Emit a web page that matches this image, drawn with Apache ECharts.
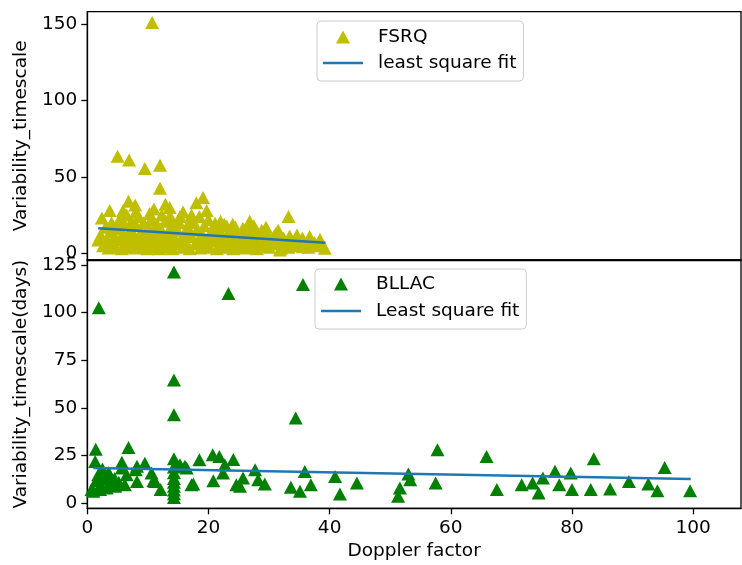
<!DOCTYPE html>
<html>
<head>
<meta charset="utf-8">
<title>Variability timescale vs Doppler factor</title>
<script src="https://cdn.jsdelivr.net/npm/echarts@6/dist/echarts.min.js"></script>
<style>
  html, body { margin: 0; padding: 0; background: #fff; }
  #chart { width: 742px; height: 565px; }
</style>
</head>
<body>
<div id="chart"></div>
<script>
// FSRQ sample: Doppler factor and variability timescale
const fsrqDoppler = [
  1.8, 2.2, 2.4, 2.6, 3.0, 3.2, 3.5, 3.7, 3.8, 4.0, 4.2, 4.5, 4.8, 5.0, 5.0, 5.3, 5.5, 5.7, 5.9, 5.9,
  6.1, 6.3, 6.5, 6.7, 6.8, 6.9, 6.9, 7.1, 7.3, 7.5, 7.7, 7.9, 7.9, 8.1, 8.3, 8.5, 8.7, 8.9, 9.1, 9.3,
  9.5, 9.5, 9.7, 9.9, 10.1, 10.3, 10.3, 10.5, 10.7, 10.7, 10.9, 11.1, 11.3, 11.5, 11.7, 11.9, 12.0, 12.0, 12.1, 12.3,
  12.3, 12.6, 12.9, 12.9, 13.1, 13.3, 13.6, 13.6, 13.6, 13.9, 14.1, 14.3, 14.6, 14.9, 15.2, 15.3, 15.5, 15.8, 16.0, 16.3,
  16.6, 16.9, 17.2, 17.2, 17.5, 17.8, 18.0, 18.1, 18.4, 18.7, 19.0, 19.1, 19.3, 19.6, 19.7, 19.9, 20.2, 20.5, 20.8, 21.1,
  21.1, 21.4, 21.7, 22.0, 22.3, 22.6, 22.9, 23.0, 23.2, 23.5, 23.8, 24.1, 24.4, 24.4, 24.7, 25.0, 25.3, 25.7, 25.6, 25.9,
  26.2, 26.5, 26.8, 26.8, 27.1, 27.4, 27.7, 28.0, 28.0, 28.3, 28.6, 28.8, 29.0, 29.3, 29.6, 29.9, 30.0, 30.4, 30.8, 31.1,
  31.2, 31.6, 31.8, 32.0, 32.4, 32.8, 33.2, 33.2, 33.4, 33.6, 34.0, 34.5, 34.6, 35.0, 35.5, 35.6, 36.0, 36.5, 36.7, 37.0,
  37.5, 38.0, 38.4, 38.6, 39.2, 8.0, 11.0, 14.0, 15.8, 16.8, 18.5, 20.0, 22.0, 24.0, 27.5, 29.5, 31.5
];
const fsrqTimescale = [
  8.7, 12, 23, 5, 17, 9, 3.5, 28, 14, 20, 7, 11, 4, 63.5, 16, 22, 9, 3, 28, 13,
  19, 6, 25, 10, 34, 61, 4, 15, 21, 8, 12, 31.5, 3.5, 18, 6, 24, 10, 14, 4, 20,
  55.5, 8, 12, 3, 17, 26, 6, 22, 151, 10, 14, 4.5, 8, 19, 12, 3, 57.5, 42.5, 16, 25,
  6, 10, 32, 21, 4, 13, 24, 30, 8, 18, 3, 11, 6, 15, 20, 24, 9, 4, 13, 7,
  17, 3, 25, 11, 21, 6, 33, 15, 9, 3.5, 12, 36.5, 18, 6, 28, 10, 4, 14, 8, 19.6,
  12, 3, 16, 6, 10, 19, 4, 17.8, 13, 8, 11, 3, 17.4, 7, 14, 5, 10, 16.3, 12, 3.5,
  8, 15, 21, 6, 11, 4, 9, 14, 3, 12, 7, 15, 10, 5, 13, 8.7, 4, 9, 11, 13,
  6, 8, 2.2, 3.5, 10, 6, 24, 4, 11.3, 8, 5, 9, 12, 7, 10, 4.3, 6, 4, 10.9, 8,
  7, 5, 9.2, 6, 3.3, 27, 29, 22, 27, 20, 24, 22, 21, 19, 18, 17, 15
];

// BL Lac sample
const bllacDoppler = [
  0.7, 1.0, 1.3, 1.4, 1.5, 1.8, 1.9, 2.1, 2.2, 2.5, 2.8, 2.9, 3.2, 3.5, 3.7, 4.0, 4.5, 4.6, 5.2, 5.7,
  5.7, 6.2, 6.5, 6.8, 8.0, 8.2, 8.2, 9.5, 10.6, 10.9, 11.2, 12.1, 14.3, 14.3, 14.3, 14.3, 14.3, 14.3, 14.3, 14.3,
  14.3, 14.3, 14.3, 14.3, 15.3, 16.1, 16.4, 17.2, 17.5, 18.5, 20.7, 20.8, 21.8, 22.4, 22.7, 23.3, 24.1, 24.6, 25.2, 25.7,
  27.7, 28.2, 29.3, 33.6, 34.4, 35.1, 35.6, 35.9, 36.9, 40.9, 41.7, 44.5, 51.3, 51.6, 53.0, 53.3, 57.5, 57.8, 65.9, 67.6,
  71.7, 73.5, 74.5, 75.2, 77.2, 77.9, 79.8, 80.0, 83.1, 83.6, 86.3, 89.4, 92.6, 94.1, 95.3, 99.5
];
const bllacTimescale = [
  7.2, 6.3, 22, 28.4, 12, 15, 102.5, 7.2, 10, 18, 13, 13.3, 8, 16, 15, 9.8, 13, 8.9, 11, 21.6,
  18.5, 9.8, 15, 29.3, 17.6, 11.5, 19.4, 21, 15.9, 11.9, 11.5, 7.2, 121.3, 64.7, 46.4, 23.4, 19, 16, 13, 11,
  9, 7, 5, 3, 20.2, 19.4, 18.5, 9.8, 10.1, 22.9, 25.5, 11.9, 24.6, 15.9, 20.2, 110, 23, 9.8, 8.9, 13.3,
  17.6, 12.4, 10.1, 8.4, 44.7, 6.3, 114.7, 16.7, 9.8, 14.1, 4.9, 10.7, 3.7, 8, 15.4, 12.4, 10.7, 28.1, 24.6, 7.2,
  9.8, 10.7, 5.4, 13.3, 16.8, 9.8, 15.9, 7.2, 7.2, 23.4, 7.5, 11.5, 10.1, 6.6, 18.8, 6.6
];

// Least-squares fit endpoints for each sample
const fsrqFitX = [1.8, 39.3];
const fsrqFitY = [16.4, 6.9];
const bllacFitX = [1.0, 99.6];
const bllacFitY = [18.5, 12.8];

// Tick positions
const xTicks = [0, 20, 40, 60, 80, 100];
const fsrqTicks = [0, 50, 100, 150];
const bllacTicks = [0, 25, 50, 75, 100, 125];

const pairs = (xs, ys) => xs.map((x, i) => [x, ys[i]]);

const FONT = 'DejaVu Sans';
const FS = 18.5;
const YELLOW = '#bfbf00';
const GREEN = '#008000';
const BLUE = '#1f77b4';

const triIcon = 'path://M0,0M40,14M13,13.5L20,0.5L27,13.5Z';
const lineIcon = 'path://M0,0M40,14M0,5.75L40,5.75L40,8.25L0,8.25Z';

const gridLeft = 87.3, gridWidth = 653.7, panelH = 248.3;

const axisCommon = {
  axisLine: { show: true, onZero: false, lineStyle: { color: '#000', width: 1.3 } },
  axisTick: { show: true, length: 6, lineStyle: { color: '#000', width: 1.3 } },
  splitLine: { show: false },
  axisLabel: { color: '#000', fontFamily: FONT, fontSize: FS, margin: 10 },
  nameTextStyle: { color: '#000', fontFamily: FONT, fontSize: FS }
};

const legendText = { fontFamily: FONT, fontSize: FS, lineHeight: 20, color: '#000', padding: [0, 0, 0, 10] };

const chart = echarts.init(document.getElementById('chart'), null, { renderer: 'canvas' });

chart.setOption({
  animation: false,
  backgroundColor: '#fff',
  textStyle: { fontFamily: FONT },
  grid: [
    { left: gridLeft, top: 11.7, width: gridWidth, height: panelH, show: true, borderColor: '#000', borderWidth: 1.3, backgroundColor: 'transparent' },
    { left: gridLeft, top: 260, width: gridWidth, height: panelH, show: true, borderColor: '#000', borderWidth: 1.3, backgroundColor: 'transparent' }
  ],
  xAxis: [
    Object.assign({}, axisCommon, {
      type: 'value', gridIndex: 0, min: 0, max: 107.9,
      axisTick: { show: false }, axisLabel: { show: false }
    }),
    Object.assign({}, axisCommon, {
      type: 'value', gridIndex: 1, min: 0, max: 107.9,
      name: 'Doppler factor', nameLocation: 'middle', nameGap: 33,
      axisTick: Object.assign({}, axisCommon.axisTick, { customValues: xTicks }),
      axisLabel: Object.assign({}, axisCommon.axisLabel, { customValues: xTicks })
    })
  ],
  yAxis: [
    Object.assign({}, axisCommon, {
      type: 'value', gridIndex: 0, min: -4.4, max: 158,
      name: 'Variability_timescale', nameLocation: 'middle', nameGap: 52, nameRotate: 90,
      axisTick: Object.assign({}, axisCommon.axisTick, { customValues: fsrqTicks }),
      axisLabel: Object.assign({}, axisCommon.axisLabel, { customValues: fsrqTicks })
    }),
    Object.assign({}, axisCommon, {
      type: 'value', gridIndex: 1, min: -2.6, max: 127.6,
      name: 'Variability_timescale(days)', nameLocation: 'middle', nameGap: 52, nameRotate: 90,
      axisTick: Object.assign({}, axisCommon.axisTick, { customValues: bllacTicks }),
      axisLabel: Object.assign({}, axisCommon.axisLabel, { customValues: bllacTicks })
    })
  ],
  legend: [
    {
      left: 317, top: 21, orient: 'vertical', selectedMode: false,
      itemWidth: 40, itemHeight: 14, itemGap: 6, itemSymbolKeepAspect: true,
      padding: [6, 7, 8, 6],
      borderColor: '#cccccc', borderWidth: 1, borderRadius: 4,
      textStyle: legendText,
      data: [
        { name: 'FSRQ', icon: triIcon, itemStyle: { color: YELLOW, borderWidth: 0 } },
        { name: 'least square fit', icon: lineIcon, itemStyle: { color: BLUE, borderWidth: 0 }, lineStyle: { width: 0 } }
      ]
    },
    {
      left: 315, top: 269, orient: 'vertical', selectedMode: false,
      itemWidth: 40, itemHeight: 14, itemGap: 7, itemSymbolKeepAspect: true,
      padding: [5, 7, 8, 6],
      borderColor: '#cccccc', borderWidth: 1, borderRadius: 4,
      textStyle: legendText,
      data: [
        { name: 'BLLAC', icon: triIcon, itemStyle: { color: GREEN, borderWidth: 0 } },
        { name: 'Least square fit', icon: lineIcon, itemStyle: { color: BLUE, borderWidth: 0 }, lineStyle: { width: 0 } }
      ]
    }
  ],
  series: [
    {
      name: 'FSRQ', type: 'scatter', xAxisIndex: 0, yAxisIndex: 0,
      symbol: 'triangle', symbolSize: [14, 13],
      itemStyle: { color: YELLOW, opacity: 1 },
      data: pairs(fsrqDoppler, fsrqTimescale)
    },
    {
      name: 'least square fit', type: 'line', xAxisIndex: 0, yAxisIndex: 0,
      showSymbol: false, symbol: 'none',
      lineStyle: { color: BLUE, width: 2.6 }, itemStyle: { color: BLUE },
      data: pairs(fsrqFitX, fsrqFitY)
    },
    {
      name: 'BLLAC', type: 'scatter', xAxisIndex: 1, yAxisIndex: 1,
      symbol: 'triangle', symbolSize: [14, 13],
      itemStyle: { color: GREEN, opacity: 1 },
      data: pairs(bllacDoppler, bllacTimescale)
    },
    {
      name: 'Least square fit', type: 'line', xAxisIndex: 1, yAxisIndex: 1,
      showSymbol: false, symbol: 'none',
      lineStyle: { color: BLUE, width: 2.6 }, itemStyle: { color: BLUE },
      data: pairs(bllacFitX, bllacFitY)
    }
  ]
});
</script>
</body>
</html>
